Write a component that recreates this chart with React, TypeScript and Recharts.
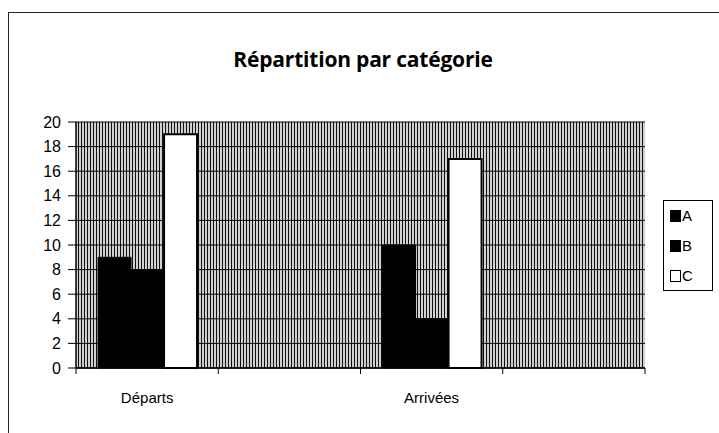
import { BarChart, Bar, XAxis, YAxis, CartesianGrid, Legend } from 'recharts'

// données
const categories = ['Départs', '', 'Arrivées', '']
const seriesA = [9, null, 10, null]
const seriesB = [8, null, 4, null]
const seriesC = [19, null, 17, null]
const yTicks = [0, 2, 4, 6, 8, 10, 12, 14, 16, 18, 20]
const seriesNames = ['A', 'B', 'C']

const data = categories.map((name, i) => ({
  name,
  A: seriesA[i],
  B: seriesB[i],
  C: seriesC[i],
}))

const W = 719
const H = 433
const PLOT_L = 76
const PLOT_R = 645
const PLOT_B = 368
const SLOT = (PLOT_R - PLOT_L) / categories.length
const FONT = '"Liberation Sans", Arial, sans-serif'

// tick de catégorie façon Excel : trait aux bornes, texte au centre
const CatTick = (props: any) => {
  const { x, y, payload, index } = props
  const half = SLOT / 2
  return (
    <g>
      <line x1={x - half} y1={PLOT_B} x2={x - half} y2={PLOT_B + 6} stroke="#000" />
      {index === categories.length - 1 && (
        <line x1={x + half} y1={PLOT_B} x2={x + half} y2={PLOT_B + 6} stroke="#000" />
      )}
      <text x={x} y={y} dy="0.71em" textAnchor="middle" fontSize={15} fontFamily={FONT} fill="#000">
        {payload.value}
      </text>
    </g>
  )
}

const LegendBox = (props: any) => {
  const { payload } = props
  return (
    <div style={{ border: '1px solid #000', width: 48, height: 89, position: 'relative', background: '#fff' }}>
      {(payload || []).map((p: any, i: number) => (
        <div
          key={p.value}
          style={{ position: 'absolute', left: 6, top: 6 + i * 30, display: 'flex', alignItems: 'center', fontFamily: FONT, fontSize: 15, color: '#000' }}
        >
          <span
            style={{ display: 'inline-block', width: 9, height: 10, background: p.color, border: '1px solid #000', marginRight: 1 }}
          />
          {p.value}
        </div>
      ))}
    </div>
  )
}

export default function App() {
  return (
    <div style={{ position: 'absolute', left: 0, top: 0, width: W, height: H, overflow: 'hidden', background: '#fff' }}>
      <div
        style={{ position: 'absolute', left: 8, top: 12, width: W, height: H, borderLeft: '1.5px solid #222', borderTop: '1.5px solid #222' }}
      />
      <div
        style={{ position: 'absolute', left: 0, top: 45, width: 726, textAlign: 'center', fontFamily: '"Open Sans", "Noto Sans", sans-serif', fontWeight: 700, fontSize: 21, letterSpacing: -0.2, color: '#000' }}
      >
        Répartition par catégorie
      </div>
      <BarChart
        width={W}
        height={H}
        data={data}
        margin={{ top: 122, right: W - PLOT_R, bottom: 0, left: 0 }}
        barCategoryGap="15.5%"
        barGap={0}
        style={{ position: 'absolute', left: 0, top: 0 }}
      >
        <defs>
          <pattern id="hatch" width="3" height="4" patternUnits="userSpaceOnUse">
            <rect width="3" height="4" fill="#d0d0d0" />
            <rect x="0" width="1" height="4" fill="#111" />
          </pattern>
        </defs>
        <CartesianGrid vertical={false} stroke="#000" fill="url(#hatch)" fillOpacity={1} />
        <XAxis
          dataKey="name"
          height={H - PLOT_B}
          interval={0}
          tickLine={false}
          tickSize={6}
          tickMargin={18}
          axisLine={{ stroke: '#000', strokeWidth: 1.5 }}
          tick={<CatTick />}
        />
        <YAxis
          width={PLOT_L}
          domain={[0, 20]}
          ticks={yTicks}
          interval={0}
          tickSize={8}
          tickMargin={7}
          axisLine={{ stroke: '#000', strokeWidth: 1.5 }}
          tickLine={{ stroke: '#000' }}
          tick={{ fill: '#000', fontSize: 16, fontFamily: FONT }}
        />
        <YAxis
          yAxisId="r"
          orientation="right"
          width={0}
          domain={[0, 20]}
          tick={false}
          tickLine={false}
          axisLine={{ stroke: '#000', strokeWidth: 1.5 }}
        />
        <Legend
          layout="horizontal"
          verticalAlign="middle"
          align="center"
          content={<LegendBox />}
          wrapperStyle={{ position: 'absolute', left: 663, top: 200, width: 50 }}
        />
        <Bar dataKey="A" name={seriesNames[0]} fill="#000" stroke="#000" isAnimationActive={false} />
        <Bar dataKey="B" name={seriesNames[1]} fill="#000" stroke="#000" isAnimationActive={false} />
        <Bar dataKey="C" name={seriesNames[2]} fill="#fff" stroke="#000" strokeWidth={2} isAnimationActive={false} />
      </BarChart>
    </div>
  )
}
